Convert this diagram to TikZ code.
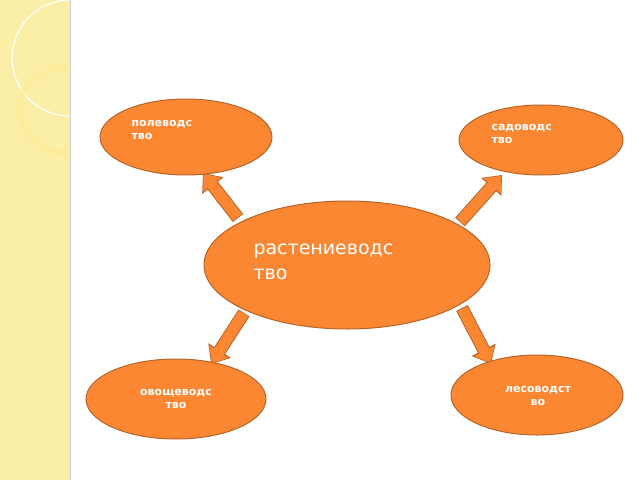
\documentclass[tikz,border=0pt]{standalone}
\usepackage{fontspec}
\setmainfont{DejaVu Sans}
\usetikzlibrary{arrows.meta,shapes.geometric}
\definecolor{org}{HTML}{FB8733}
\definecolor{orgd}{HTML}{B5652A}
\definecolor{strip}{HTML}{FBEFA8}
\begin{document}
\begin{tikzpicture}[x=1pt,y=-1pt,
  oval/.style={draw=orgd,line width=1pt,fill=org,ellipse,inner sep=0pt},
  lbl/.style={text=white,font=\bfseries\fontsize{11}{13}\selectfont,align=left},
  barrowo/.style={line width=13pt,draw=orgd,-{Triangle[width=26pt,length=16pt]}},
  barrowi/.style={line width=11pt,draw=org,shorten >=1.2pt,shorten <=0.8pt,-{Triangle[width=22pt,length=13.5pt]}}]
\useasboundingbox (0,0) rectangle (640,480);
\fill[strip] (0,0) rectangle (70,480);
\draw[gray!40,line width=1pt] (70,0) -- (70,480);
\begin{scope}
\clip (0,0) rectangle (70,480);
\fill[black!15,opacity=0.6] (0,0) -- (57,0) arc[start angle=0,end angle=-90,radius=57] -- cycle;
\draw[white,line width=1.2pt] (70,58) circle[radius=58];
\draw[yellow!70!orange!40,line width=6pt,opacity=0.7] (62,110) circle[radius=42];
\end{scope}
\coordinate (a1s) at (238,218); \coordinate (a1e) at (203,173);
\coordinate (a2s) at (460,222); \coordinate (a2e) at (502,175);
\coordinate (a3s) at (244,313); \coordinate (a3e) at (211,364);
\coordinate (a4s) at (462,308); \coordinate (a4e) at (491,364);
\foreach \s/\e in {a1s/a1e,a2s/a2e,a3s/a3e,a4s/a4e}{
  \draw[barrowo] (\s) -- (\e);
  \draw[barrowi] (\s) -- (\e);}
\node[oval,minimum width=172,minimum height=76] (p) at (186,137) {};
\node[oval,minimum width=164,minimum height=70] (s) at (541,140) {};
\node[oval,minimum width=286,minimum height=128] (c) at (347,265) {};
\node[oval,minimum width=180,minimum height=80] (o) at (176,399) {};
\node[oval,minimum width=172,minimum height=80] (l) at (537,395) {};
\node[lbl,anchor=north west] (pt) at (128,117) {полеводс\\тво};
\node[lbl,anchor=north west] (st) at (488,121) {садоводс\\тво};
\node[lbl,align=center] (ot) at (176,399) {овощеводс\\тво};
\node[lbl,align=center] (lt) at (538,396) {лесоводст\\во};
\node[text=white,font=\fontsize{19}{25}\selectfont,align=left,anchor=north west] (ct) at (250,240) {растениеводс\\тво};
\end{tikzpicture}
\end{document}
